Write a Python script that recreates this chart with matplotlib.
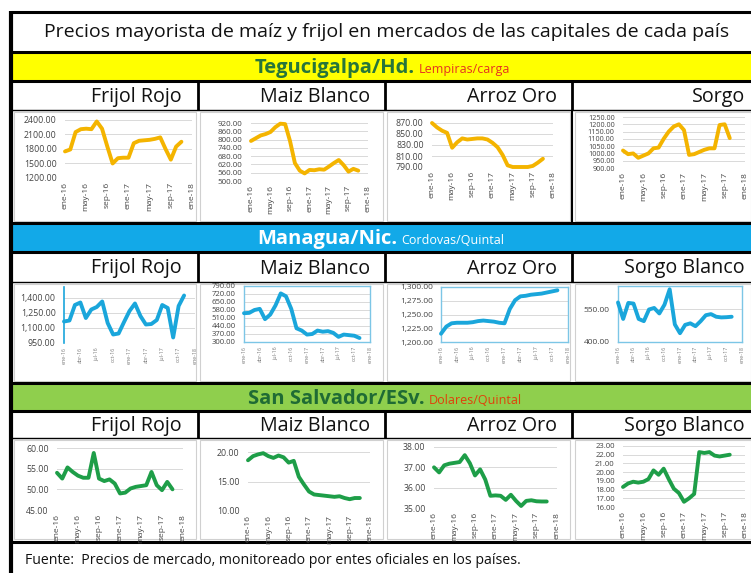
import matplotlib
matplotlib.use("Agg")
import matplotlib.pyplot as plt
from matplotlib.patches import Rectangle

plt.rcParams['font.family'] = ['Open Sans', 'DejaVu Sans']

# ---------------- data ----------------
title = "Precios mayorista de maíz y frijol en mercados de las capitales de cada país"
footer = "Fuente:  Precios de mercado, monitoreado por entes oficiales en los países."
cities = ["Tegucigalpa/Hd.", "Managua/Nic.", "San Salvador/ESv."]
units = ["Lempiras/carga", "Cordovas/Quintal", "Dolares/Quintal"]
products_teg = ["Frijol Rojo", "Maiz Blanco", "Arroz Oro", "Sorgo"]
products_nic = ["Frijol Rojo", "Maiz Blanco", "Arroz Oro", "Sorgo Blanco"]
products_slv = ["Frijol Rojo", "Maiz Blanco", "Arroz Oro", "Sorgo Blanco"]
ticks_4m = ["ene-16", "may-16", "sep-16", "ene-17", "may-17", "sep-17", "ene-18"]
ticks_3m = ["ene-16", "abr-16", "jul-16", "oct-16", "ene-17", "abr-17", "jul-17", "oct-17", "ene-18"]

# Tegucigalpa (Lempiras/carga), monthly from ene-16
teg_frijol = [1750, 1790, 2150, 2210, 2220, 2210, 2370, 2220, 1850, 1500, 1610, 1620,
              1620, 1920, 1970, 1980, 1990, 2010, 2040, 1800, 1580, 1850, 1950]
teg_maiz = [790, 810, 830, 840, 855, 890, 915, 912, 790, 630, 575, 555,
            580, 578, 585, 582, 605, 630, 652, 615, 568, 588, 575]
teg_arroz = [870, 862, 856, 852, 825, 835, 842, 840, 841, 842, 842, 840,
             834, 826, 812, 793, 790, 790, 790, 790, 792, 798, 805]
teg_sorgo = [1020, 995, 1000, 970, 985, 1000, 1035, 1040, 1100, 1150, 1185, 1200,
             1160, 990, 995, 1010, 1025, 1035, 1035, 1195, 1200, 1105]

# Managua (Cordovas/Quintal)
nic_frijol = [1165, 1175, 1330, 1355, 1200, 1285, 1310, 1365, 1150, 1035, 1045, 1160,
              1270, 1345, 1220, 1135, 1140, 1180, 1330, 1300, 1005, 1320, 1425]
nic_maiz = [552, 555, 580, 590, 500, 540, 620, 725, 700, 590, 420, 400,
            365, 370, 400, 390, 395, 380, 345, 365, 360, 355, 335]
nic_arroz = [1215, 1228, 1234, 1235, 1235, 1235, 1236, 1238, 1239, 1238, 1237, 1235,
             1234, 1260, 1276, 1283, 1284, 1286, 1287, 1288, 1290, 1292, 1294]
nic_sorgo = [580, 505, 578, 575, 505, 495, 548, 555, 530, 570, 640, 480,
             440, 478, 485, 472, 495, 522, 527, 515, 512, 513, 515]

# San Salvador (Dolares/Quintal)
slv_frijol = [54.0, 52.6, 55.3, 54.2, 53.3, 52.8, 52.8, 58.8, 52.6, 52.0, 52.4, 51.4,
              49.0, 49.2, 50.2, 50.6, 50.8, 51.0, 54.2, 51.0, 49.8, 51.8, 50.0]
slv_maiz = [18.6, 19.3, 19.6, 19.8, 19.3, 19.0, 19.4, 19.1, 18.2, 18.5, 15.8, 14.5,
            13.3, 12.8, 12.7, 12.6, 12.5, 12.4, 12.5, 12.2, 12.0, 12.2, 12.2]
slv_arroz = [37.0, 36.75, 37.1, 37.18, 37.22, 37.26, 37.6, 37.2, 36.6, 36.9, 36.4, 35.6,
             35.62, 35.6, 35.4, 35.65, 35.35, 35.1, 35.35, 35.38, 35.33, 35.32, 35.32]
slv_sorgo = [18.3, 18.7, 18.9, 18.8, 18.9, 19.2, 20.2, 19.7, 20.4, 19.2, 18.1, 17.6,
             16.6, 17.0, 17.5, 22.3, 22.2, 22.3, 21.9, 21.8, 21.9, 22.0]

# ---------------- figure ----------------
W, H = 751, 573
fig = plt.figure(figsize=(W / 100, H / 100), dpi=100)
bg = fig.add_axes([0, 0, 1, 1])
bg.set_xlim(0, W)
bg.set_ylim(H, 0)
bg.axis('off')


def rect(x0, y0, x1, y1, fc, ec='none', lw=0, z=1):
    bg.add_patch(Rectangle((x0, y0), x1 - x0, y1 - y0, facecolor=fc, edgecolor=ec, linewidth=lw, zorder=z))


def hline(y, x0=11, x1=W, lw=2.0, c='black'):
    bg.plot([x0, x1], [y, y], color=c, lw=lw, zorder=5, solid_capstyle='butt')


def vline(x, y0, y1, lw=2.0, c='black'):
    bg.plot([x, x], [y0, y1], color=c, lw=lw, zorder=5, solid_capstyle='butt')


rect(0, 0, W, H, 'white')
# title row
rect(11, 12, W, 52, 'white')
bg.text(387, 32, title, ha='center', va='center', fontsize=14, color='#111111', zorder=6)

# bands
band_rows = [(53, 81), (224, 252), (384, 411)]
band_colors = ['#FFFF00', '#12A9E8', '#8FCF4D']
city_colors = ['#27753A', 'white', '#1F6B34']
unit_colors = ['#E53320', 'white', '#E0400A']
city_right = [415, 397, 425]
for (y0, y1), bc, cname, un, cc, uc, xr in zip(band_rows, band_colors, cities, units,
                                               city_colors, unit_colors, city_right):
    rect(11, y0, W, y1, bc)
    ym = (y0 + y1) / 2 + 1
    bg.text(xr, ym, cname, ha='right', va='center', fontsize=14.5, fontweight='bold', color=cc, zorder=6)
    bg.text(xr + 4, ym + 1.5, un, ha='left', va='center', fontsize=9, color=uc, zorder=6)

# header rows
header_rows = [(82, 110), (253, 282), (412, 438)]
header_right = [182, 370, 557, 745]
for (y0, y1), prods in zip(header_rows, [products_teg, products_nic, products_slv]):
    rect(11, y0, W, y1, 'white')
    for xr, p in zip(header_right, prods):
        bg.text(xr, (y0 + y1) / 2 + 1, p, ha='right', va='center', fontsize=14.2, color='#111111', zorder=6)
    for xd in [198, 385, 572]:
        vline(xd, y0, y1, lw=2.0)

# chart rows (panels)
chart_rows = [(111, 223), (283, 383), (439, 541)]
panel_x = [(14, 196), (200, 383), (387, 570), (575, 751)]
for (y0, y1) in chart_rows:
    rect(11, y0, W, y1, 'white')
    for (px0, px1) in panel_x:
        rect(px0, y0 + 1, px1, y1 - 2, 'white', ec='#d0d0d0', lw=0.8, z=2)
vline(572, 111, 223, lw=1.5)

# footer
rect(11, 542, W, H, 'white')
bg.text(25, 561, footer, ha='left', va='center', fontsize=10.2, color='#111111', zorder=6)

# borders
for y in [12, 52, 81, 223, 252, 383, 411, 542]:
    hline(y, lw=2.2)
for y in [110, 282, 438]:
    hline(y, lw=1.0)
vline(11, 11, H, lw=3)

# ---------------- charts ----------------
fmt_plain = lambda v: f"{v:.2f}"
fmt_comma = lambda v: f"{v:,.2f}"

charts = [
    # series, (x0, x1, ytop, ybot), ylim, yticks, fmt, color, xticklabels, style, ylabel size
    (teg_frijol, (65, 192, 120, 178), (1200, 2400), list(range(1200, 2401, 300)), fmt_plain, '#F4B400', ticks_4m, 'plain', 6.3),
    (teg_maiz, (251, 368, 123, 181), (500, 920), list(range(500, 921, 60)), fmt_plain, '#F4B400', ticks_4m, 'plain', 5.8),
    (teg_arroz, (432, 553, 123, 167), (790, 870), list(range(790, 871, 20)), fmt_plain, '#F4B400', ticks_4m, 'plain', 6.3),
    (teg_sorgo, (623, 745, 117, 168), (900, 1250), list(range(900, 1251, 50)), fmt_plain, '#F4B400', ticks_4m, 'plain', 5.2),
    (nic_frijol, (64, 195, 287, 343), (950, 1510), [950, 1100, 1250, 1400], fmt_comma, '#1AA6DB', ticks_3m, 'left', 6.3),
    (nic_maiz, (244, 370, 286, 342), (300, 790), list(range(300, 791, 70)), fmt_plain, '#1AA6DB', ticks_3m, 'box', 5.6),
    (nic_arroz, (441, 568, 287, 342), (1200, 1300), list(range(1200, 1301, 25)), fmt_comma, '#1AA6DB', ticks_3m, 'box', 6.0),
    (nic_sorgo, (618, 742, 286, 342), (400, 655), [400, 550], fmt_plain, '#1AA6DB', ticks_3m, 'box', 6.0),
    (slv_frijol, (57, 183, 448, 510), (45, 60), [45, 50, 55, 60], fmt_plain, '#1E9E48', ticks_4m, 'plain', 6.3),
    (slv_maiz, (248, 370, 452, 511), (10, 20), [10, 15, 20], fmt_plain, '#1E9E48', ticks_4m, 'plain', 6.3),
    (slv_arroz, (434, 557, 447, 508), (35, 38), [35, 36, 37, 38], fmt_plain, '#1E9E48', ticks_4m, 'plain', 6.3),
    (slv_sorgo, (623, 745, 446, 507), (16, 23), list(range(16, 24)), fmt_plain, '#1E9E48', ticks_4m, 'plain', 5.6),
]

for series, (x0, x1, yt, yb), ylim, yticks, fmt, col, xlabels, style, ysize in charts:
    ax = fig.add_axes([x0 / W, 1 - yb / H, (x1 - x0) / W, (yb - yt) / H])
    ax.set_facecolor('none')
    ax.set_zorder(10)
    months = list(range(len(series)))
    ax.plot(months, series, color=col, lw=2.8, solid_capstyle='round', solid_joinstyle='round',
            clip_on=False, zorder=3)
    ax.set_xlim(0, 24)
    ax.set_ylim(*ylim)
    ax.set_yticks(yticks)
    ax.set_yticklabels([fmt(v) for v in yticks])
    step = 24 // (len(xlabels) - 1)
    ax.set_xticks(list(range(0, 25, step)))
    small = style != 'plain'
    ax.set_xticklabels(xlabels, rotation=90, fontsize=3.8 if small else 6,
                       color='#777777' if small else '#444444')
    ax.tick_params(axis='y', length=0, labelsize=ysize, pad=6, labelcolor='#444444')
    ax.tick_params(axis='x', length=0, pad=3)
    ax.grid(axis='y', color='#d9d9d9', lw=0.7)
    ax.set_axisbelow(True)
    for s in ax.spines.values():
        s.set_visible(False)
    if style == 'box':
        for s in ax.spines.values():
            s.set_visible(True)
            s.set_color('#7CC6E6')
            s.set_linewidth(1.0)
    elif style == 'left':
        ax.spines['left'].set_visible(True)
        ax.spines['left'].set_color('#1AA6DB')
        ax.spines['left'].set_linewidth(1.2)

fig.savefig("out.png", dpi=100)
